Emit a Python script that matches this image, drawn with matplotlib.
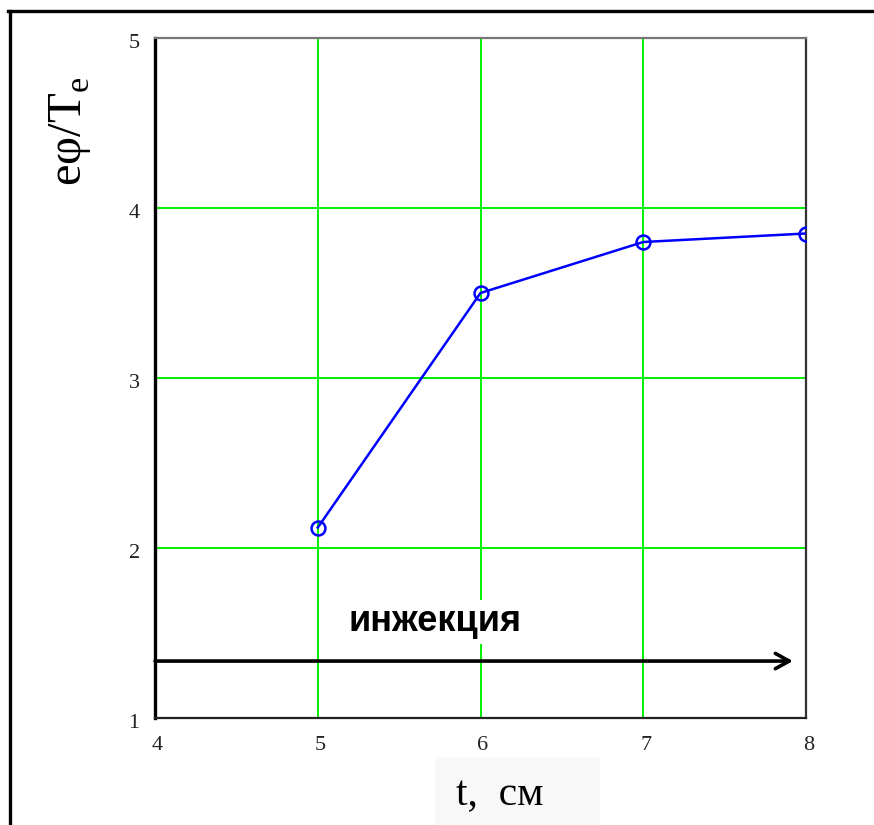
import matplotlib
matplotlib.use('Agg')
import matplotlib.pyplot as plt
import matplotlib.transforms as mtransforms
from matplotlib.lines import Line2D
from matplotlib.patches import Rectangle

# data: potential drop vs time
t_cm = [5, 6, 7, 8]
ephi_te = [2.12, 3.5, 3.8, 3.85]

x_ticks = [4, 5, 6, 7, 8]
y_ticks = [1, 2, 3, 4, 5]

# injection arrow (start/end in data units) and its caption
inj_y = 1.335
inj_x0, inj_x1 = 4.0, 7.92
inj_label = 'инжекция'
inj_label_pos = (5.72, 1.565)

W, H = 874, 825
fig = plt.figure(figsize=(W / 100, H / 100), dpi=100)
fig.patch.set_facecolor('white')

# outer frame (top and left edges only)
fig.add_artist(Line2D([8 / W, 1], [1 - 11 / H, 1 - 11 / H], color='black', lw=2.4,
                      transform=fig.transFigure))
fig.add_artist(Line2D([9.5 / W, 9.5 / W], [0, 1 - 11 / H], color='black', lw=2.4,
                      transform=fig.transFigure))

# light box behind the x-axis caption
fig.add_artist(Rectangle((435 / W, 0), 165 / W, (H - 757) / H, transform=fig.transFigure,
                         facecolor='#f8f8f8', edgecolor='none', zorder=0))

ax = fig.add_axes([155 / W, 107 / H, 651 / W, 680 / H])
ax.set_xlim(4, 8)
ax.set_ylim(1, 5)
ax.set_xticks(x_ticks)
ax.set_yticks(y_ticks)
ax.grid(True, color='#00f000', lw=1.4)
ax.set_axisbelow(True)

ax.spines['left'].set_linewidth(2.4)
ax.spines['left'].set_color('black')
ax.spines['bottom'].set_linewidth(1.6)
ax.spines['bottom'].set_color('#222222')
ax.spines['right'].set_linewidth(1.6)
ax.spines['right'].set_color('#333333')
ax.spines['top'].set_linewidth(1.6)
ax.spines['top'].set_color('#777777')

ax.tick_params(length=0, labelsize=16, colors='#222222')
ax.tick_params(axis='x', pad=13)
ax.tick_params(axis='y', pad=11)
for lab in ax.get_xticklabels() + ax.get_yticklabels():
    lab.set_family('Liberation Serif')
for lab in ax.get_xticklabels():
    lab.set_ha('left')
    lab.set_transform(lab.get_transform() +
                      mtransforms.ScaledTranslation(-3 / 100, 0, fig.dpi_scale_trans))
for lab in ax.get_yticklabels():
    lab.set_transform(lab.get_transform() +
                      mtransforms.ScaledTranslation(0, -3 / 100, fig.dpi_scale_trans))

ax.plot(t_cm, ephi_te, color='#0000ff', lw=1.8, marker='o', markersize=10,
        fillstyle='none', markeredgewidth=1.8, zorder=3)

ax.annotate('', xy=(inj_x1, inj_y), xytext=(inj_x0, inj_y),
            arrowprops=dict(arrowstyle='->,head_length=1.0,head_width=0.55',
                            color='black', lw=2.6, shrinkA=0, shrinkB=0),
            zorder=4)
ax.text(inj_label_pos[0], inj_label_pos[1], inj_label, ha='center', va='center',
        fontsize=26, fontweight='bold', family='Liberation Sans',
        bbox=dict(facecolor='white', edgecolor='none', pad=3), zorder=4)

fig.text(70 / W, 1 - 131 / H, r'eφ/T$_{\mathregular{e}}$', rotation=90, ha='center',
         va='center', fontsize=35, family='Liberation Serif')
fig.text(500 / W, 1 - 795 / H, 't,  см', ha='center', va='center', fontsize=30,
         family='Liberation Serif')

fig.savefig('out.png', dpi=100)
